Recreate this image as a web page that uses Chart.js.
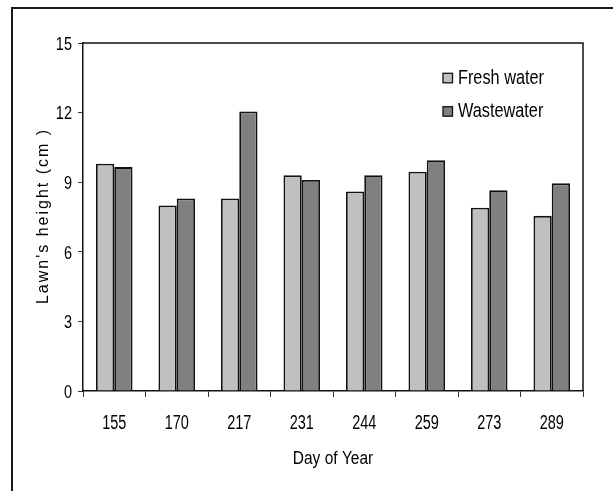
<!DOCTYPE html>
<html>
<head>
<meta charset="utf-8">
<script src="https://cdn.jsdelivr.net/npm/chart.js@4.4.1/dist/chart.umd.min.js"></script>
<style>
    html, body { margin: 0; padding: 0; background: #fff; }
    canvas { display: block; }
</style>
</head>
<body>
<canvas id="chart" width="613" height="491"></canvas>
<script>
// Data
const days = ['155', '170', '217', '231', '244', '259', '273', '289'];
const freshWater = [9.8, 8.0, 8.3, 9.3, 8.6, 9.45, 7.9, 7.55];
const wasteWater = [9.65, 8.3, 12.05, 9.1, 9.3, 9.95, 8.65, 8.95];
const seriesNames = ['Fresh water', 'Wastewater'];
const yTitle = "Lawn's height (cm )";
const xTitle = 'Day of Year';

const FONT = "'Liberation Sans', Arial, sans-serif";

// the figure's lettering is tall and narrow, so text is drawn with a vertical stretch
const drawText = (ctx, text, x, y, o) => {
    ctx.save();
    ctx.translate(x, y);
    if (o.rotate) ctx.rotate(o.rotate);
    ctx.scale(o.sx || 1, o.sy || 1);
    ctx.font = o.size + 'px ' + FONT;
    if (o.spacing) ctx.letterSpacing = o.spacing + 'px';
    ctx.fillStyle = '#000';
    ctx.textAlign = o.align || 'left';
    ctx.textBaseline = 'alphabetic';
    // letterSpacing adds a trailing gap, shift back half of it when centred
    const shift = (o.spacing && o.align === 'center') ? o.spacing / 2 : 0;
    ctx.fillText(text, shift, 0);
    ctx.restore();
};

const labelsPlugin = {
    id: 'labels',
    afterDraw: (chart) => {
        const { ctx, chartArea: a } = chart;
        const xs = chart.scales.x, ys = chart.scales.y;

        ctx.save();
        // outer frame (runs off the right and bottom edges)
        ctx.strokeStyle = '#1a1a1a';
        ctx.lineWidth = 2;
        ctx.strokeRect(12, 8, 640, 520);

        // plot box top and right edges
        ctx.lineWidth = 1.5;
        ctx.strokeStyle = '#111';
        ctx.beginPath();
        ctx.moveTo(a.left, a.top);
        ctx.lineTo(a.right, a.top);
        ctx.lineTo(a.right, a.bottom);
        ctx.stroke();
        ctx.restore();

        // tick labels, from the scales' own ticks
        xs.ticks.forEach((t, i) => {
            drawText(ctx, xs.getLabelForValue(t.value), xs.getPixelForTick(i), 428.5, { size: 14.5, sy: 1.4, align: 'center' });
        });
        ys.ticks.forEach((t, i) => {
            drawText(ctx, String(t.value), 72, ys.getPixelForTick(i) + 6.8, { size: 14.5, sy: 1.3, align: 'right' });
        });

        // axis titles
        drawText(ctx, xTitle, (a.left + a.right) / 2, 464, { size: 15.5, sy: 1.13, align: 'center' });
        drawText(ctx, yTitle, 48, (a.top + a.bottom) / 2, { size: 16, spacing: 2, align: 'center', rotate: -Math.PI / 2 });

        // legend in the upper right of the plot
        const rows = [77.8, 111.2];
        chart.data.datasets.forEach((ds, i) => {
            ctx.save();
            ctx.fillStyle = ds.backgroundColor;
            ctx.strokeStyle = ds.borderColor;
            ctx.lineWidth = 1.3;
            ctx.fillRect(443, rows[i] - 4.5, 9.5, 9.5);
            ctx.strokeRect(443, rows[i] - 4.5, 9.5, 9.5);
            ctx.restore();
            drawText(ctx, ds.label, 458, rows[i] + 6, { size: 16.3, sy: 1.28 });
        });
    }
};

const ctx = document.getElementById('chart').getContext('2d');
new Chart(ctx, {
    type: 'bar',
    data: {
        labels: days,
        datasets: [{
            label: seriesNames[0],
            data: freshWater,
            backgroundColor: '#c0c0c0',
            borderColor: '#111',
            borderWidth: 1.8
        }, {
            label: seriesNames[1],
            data: wasteWater,
            backgroundColor: '#808080',
            borderColor: '#111',
            borderWidth: 1.8
        }]
    },
    options: {
        responsive: false,
        animation: false,
        devicePixelRatio: 1,
        layout: { padding: { left: 0, top: 43, right: 30, bottom: 0 } },
        datasets: {
            bar: { categoryPercentage: 0.585, barPercentage: 1.0 }
        },
        scales: {
            x: {
                grid: { offset: true, drawOnChartArea: false, tickLength: 6, color: '#333', lineWidth: 1 },
                border: { color: '#111', width: 1.5 },
                ticks: { display: false },
                afterFit: (scale) => { scale.height = 100; }
            },
            y: {
                min: 0,
                max: 15,
                grid: { drawOnChartArea: false, tickLength: 5, color: '#333', lineWidth: 1 },
                border: { color: '#111', width: 1.5 },
                ticks: { display: false, stepSize: 3 },
                afterFit: (scale) => { scale.width = 83; }
            }
        },
        plugins: {
            legend: { display: false },
            tooltip: { enabled: false }
        }
    },
    plugins: [labelsPlugin]
});
</script>
</body>
</html>
